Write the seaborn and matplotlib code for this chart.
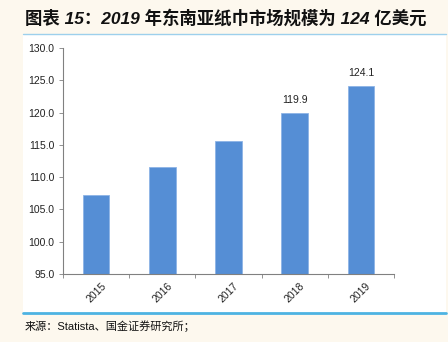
import matplotlib
matplotlib.use("Agg")
import matplotlib.pyplot as plt
import seaborn as sns
import pandas as pd
from matplotlib.patches import Rectangle
from matplotlib.lines import Line2D

years = ["2015", "2016", "2017", "2018", "2019"]
values = [107.2, 111.5, 115.6, 119.9, 124.1]
labels = ["", "", "", "119.9", "124.1"]
yticks = [95.0, 100.0, 105.0, 110.0, 115.0, 120.0, 125.0, 130.0]

title = "图表 15：2019 年东南亚纸巾市场规模为 124 亿美元"
source = "来源：Statista、国金证券研究所；"

sns.set_theme(style="white")
plt.rcParams['font.family'] = ['Liberation Sans', 'Noto Sans CJK SC', 'DejaVu Sans']

cream = "#FDF8EE"
fig = plt.figure(figsize=(4.48, 3.42), dpi=100, facecolor=cream)

# white panel
fig.patches.append(Rectangle((23/448, 1-313/342), (446-23)/448, (313-34)/342,
                             transform=fig.transFigure, facecolor="white",
                             edgecolor="none", zorder=-10))
fig.lines.append(Line2D([23/448, 446/448], [1-33.5/342]*2, transform=fig.transFigure,
                        color="#9DD0EC", lw=1.0, zorder=-5))
fig.lines.append(Line2D([23/448, 446/448], [1-313/342]*2, transform=fig.transFigure,
                        color="#4DB3E2", lw=2.0, zorder=-5))

ax = fig.add_axes([63/448, 1-274/342, (394-63)/448, (274-48)/342])
ax.set_facecolor("white")
ax.set_zorder(1)

df = pd.DataFrame({"year": years, "value": values})
sns.barplot(data=df, x="year", y="value", ax=ax, color="#558ED5",
            width=0.4, saturation=1, edgecolor="#8DB4E6", linewidth=0.6, zorder=2)

ax.set_ylim(95, 130)
ax.set_yticks(yticks)
ax.set_yticklabels([f"{t:.1f}" for t in yticks], fontsize=7.5, color="#222222",
                   family=['Liberation Sans Narrow', 'Liberation Sans'])
ax.set_xticks(range(len(years)))
ax.set_xticklabels(years, rotation=45, fontsize=7.5, color="#222222",
                   family=['Liberation Sans Narrow', 'Liberation Sans'])
ax.set_xlim(-0.5, len(years) - 0.5)
ax.set_xlabel("")
ax.set_ylabel("")

for s in ["top", "right"]:
    ax.spines[s].set_visible(False)
for s in ["left", "bottom"]:
    ax.spines[s].set_color("#808080")
    ax.spines[s].set_linewidth(0.8)

ax.tick_params(axis="y", which="both", left=True, length=3, width=0.6, color="#808080", pad=3)
ax.tick_params(axis="x", which="both", bottom=True, length=3, width=0.6, color="#808080", pad=2)
# x ticks at category boundaries
ax.set_xticks([i - 0.5 for i in range(len(years) + 1)], minor=True)
ax.tick_params(axis="x", which="major", bottom=False)
ax.tick_params(axis="x", which="minor", bottom=True, length=3, width=0.6, color="#808080")

for i, (v, lab) in enumerate(zip(values, labels)):
    if lab:
        ax.text(i, v + 1.2, lab, ha="center", va="bottom", fontsize=7.5, color="#222222",
                family=['Liberation Sans Narrow', 'Liberation Sans'])

fig.text(25/448, 1-18/342, title, fontsize=12.5, fontweight="bold", style="italic",
         ha="left", va="center", color="#111111",
         family=['Liberation Sans', 'Noto Sans CJK SC'])
fig.text(25/448, 1-326/342, source, fontsize=8, ha="left", va="center", color="#111111",
         family=['Liberation Sans', 'Noto Sans CJK SC'])

fig.savefig("out.png", dpi=100, facecolor=cream)
